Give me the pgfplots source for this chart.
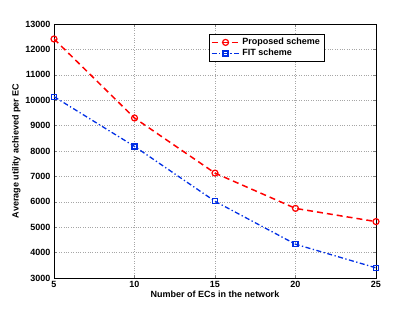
\documentclass[border=0pt]{standalone}
\usepackage{fontspec}
\setmainfont{Liberation Sans}
\usepackage{pgfplots}
\pgfplotsset{compat=1.18}
\begin{document}
\begin{tikzpicture}[x=1pt,y=1pt]
\begin{axis}[
  name=ax,
  scale only axis,
  width=322pt, height=254pt,
  xmin=5, xmax=25, ymin=3000, ymax=13000,
  xtick={5,10,15,20,25},
  ytick={3000,4000,...,13000},
  scaled y ticks=false,
  /pgf/number format/assume math mode=true,
  /pgf/number format/fixed,
  /pgf/number format/set thousands separator={},
  ticklabel style={font=\fontsize{9}{10}\selectfont\bfseries},
  label style={font=\fontsize{9}{10}\selectfont\bfseries},
  xlabel={Number of ECs in the network},
  ylabel={Average utility achieved per EC},
  xlabel style={yshift=4pt},
  ylabel style={yshift=-2pt},
  grid=major,
  major grid style={dotted, gray!70},
  tick align=inside,
  major tick length=3pt,
  axis line style={black, line width=0.6pt},
  legend style={at={(0.48,0.96)}, anchor=north west, font=\fontsize{9}{10}\selectfont\bfseries, draw=black, line width=0.5pt, row sep=-1pt, inner sep=2pt},
  legend image code/.code={\draw[mark repeat=2,mark phase=2] plot coordinates {(0pt,0pt) (14pt,0pt) (28pt,0pt)};},
  legend cell align=left,
]
\addplot[red, line width=1.5pt, dash pattern=on 6pt off 4pt, mark=o, mark size=3pt, mark options={solid, line width=1.2pt}]
  coordinates {(5,12410) (10,9300) (15,7130) (20,5740) (25,5220)};
\addlegendentry{Proposed scheme}
\addplot[blue!80!cyan!90!black, line width=1.3pt, dash pattern=on 5pt off 2.5pt on 1.3pt off 2.5pt, mark=square, mark size=2.5pt, mark options={solid, line width=1.2pt}]
  coordinates {(5,10140) (10,8180) (15,6020) (20,4330) (25,3400)};
\addlegendentry{FIT scheme}
\end{axis}
\path[use as bounding box] ([xshift=-54pt,yshift=-35pt]ax.south west) rectangle ([xshift=39pt,yshift=24pt]ax.north east);
\end{tikzpicture}
\end{document}
